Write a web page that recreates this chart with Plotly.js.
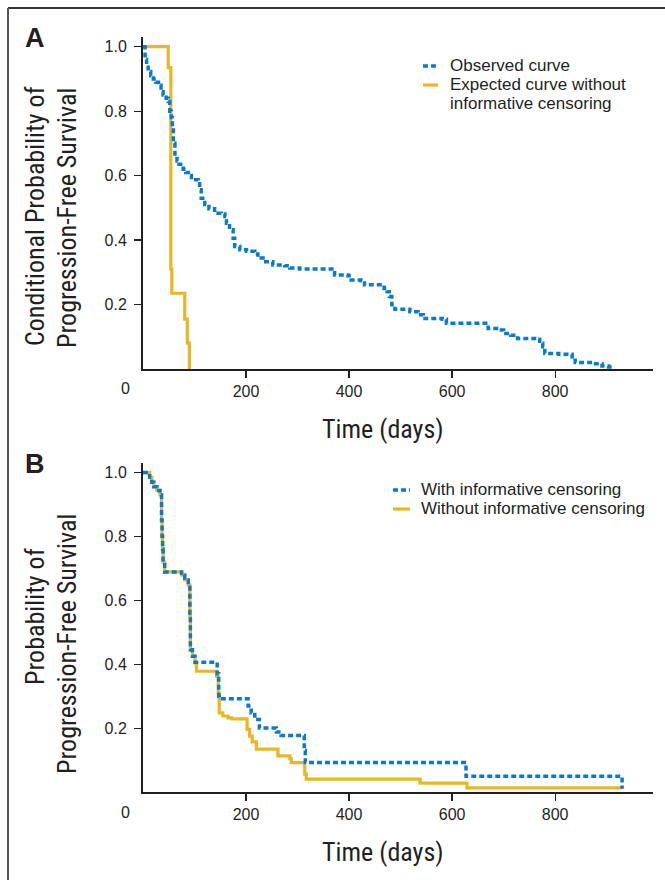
<!DOCTYPE html>
<html>
<head>
<meta charset="utf-8">
<script src="https://cdn.plot.ly/plotly-3.0.1.min.js"></script>
<style>
html,body{margin:0;padding:0;background:#fff;}
#chart{width:665px;height:880px;}
</style>
</head>
<body>
<div id="chart"></div>
<script>
// ---------- Data ----------
// Panel A: observed curve (step function: time in days, conditional PFS)
const obsA_t = [0,4,7,10,15,20,25,30,35,39,45,49,52,55,57,59,62,66,70,78,83,88,94,107,110,113,120,128,139,152,159,162,168,175,178,188,201,217,223,233,252,275,285,304,372,398,404,423,430,468,474,478,483,489,518,534,544,581,589,670,691,700,714,727,765,770,776,780,807,833,839,872,891,904,912];
const obsA_s = [1.0,0.96,0.944,0.923,0.91,0.90,0.89,0.88,0.86,0.85,0.84,0.83,0.80,0.78,0.75,0.70,0.66,0.645,0.635,0.62,0.61,0.60,0.587,0.583,0.556,0.53,0.51,0.497,0.483,0.481,0.473,0.452,0.432,0.406,0.38,0.37,0.365,0.357,0.344,0.333,0.323,0.32,0.313,0.31,0.292,0.289,0.276,0.274,0.261,0.25,0.24,0.225,0.199,0.185,0.178,0.168,0.157,0.154,0.142,0.126,0.121,0.110,0.105,0.095,0.092,0.08,0.069,0.048,0.046,0.038,0.02,0.016,0.009,0.006,0.006];
// Panel A: expected curve without informative censoring
const expA_t = [0,49,54,56,81,86,90];
const expA_s = [1.0,0.935,0.31,0.235,0.155,0.08,0.0];

// Panel B: with informative censoring
const withB_t = [0,13,17,21,27,33,36,37,38,39,42,68,75,81,88,91,92,96,101,144,147,148,204,210,217,226,259,268,313,315,627,930];
const withB_s = [1.0,0.985,0.97,0.956,0.944,0.93,0.85,0.80,0.76,0.72,0.689,0.689,0.679,0.664,0.648,0.55,0.445,0.425,0.406,0.37,0.30,0.292,0.269,0.248,0.227,0.2,0.188,0.177,0.13,0.092,0.049,0.01];
// Panel B: without informative censoring
const withoutB_t = [0,13,17,21,27,33,36,37,38,39,42,68,75,81,88,91,92,96,101,104,143,146,148,155,165,172,202,207,212,220,262,285,288,314,317,538,629,930];
const withoutB_s = [1.0,0.985,0.97,0.956,0.944,0.93,0.85,0.80,0.76,0.72,0.689,0.689,0.679,0.664,0.648,0.55,0.445,0.425,0.403,0.378,0.362,0.31,0.248,0.238,0.232,0.229,0.196,0.175,0.157,0.134,0.113,0.104,0.092,0.056,0.04,0.028,0.013,0.013];

const xTickVals = [200,400,600,800];
const xTickText = ['200','400','600','800'];
const yTickVals = [0.2,0.4,0.6,0.8,1.0];
const yTickText = ['0.2','0.4','0.6','0.8','1.0'];

const namesA = ['Observed curve', 'Expected curve without informative censoring'];
const legendLinesA = [['Observed curve'], ['Expected curve without', 'informative censoring']];
const namesB = ['With informative censoring', 'Without informative censoring'];
const legendLinesB = [['With informative censoring'], ['Without informative censoring']];

// ---------- Styling ----------
const W = 665, H = 880;
const px = x => x / W;
const py = y => 1 - y / H;
const BLUE = '#0b7bc6';
const GOLD = '#e9b722';
const INK = '#231f20';
const BLUE_LINE = {color: BLUE, width: 3.5, dash: '5px,3px'};
const GOLD_LINE = {color: GOLD, width: 3.2};
const TICKFONT = {family: 'Liberation Sans, Arial, sans-serif', size: 16, color: INK};
const TITLEFONT = {family: 'Liberation Sans Narrow, Roboto Condensed, Roboto, sans-serif', size: 26, color: INK};
const LEGFONT = {family: 'Liberation Sans, Arial, sans-serif', size: 17, color: INK};

const traces = [
  {x: expA_t, y: expA_s, xaxis: 'x', yaxis: 'y', mode: 'lines', line: Object.assign({shape: 'hv'}, GOLD_LINE), name: namesA[1], showlegend: false},
  {x: obsA_t, y: obsA_s, xaxis: 'x', yaxis: 'y', mode: 'lines', line: Object.assign({shape: 'hv'}, BLUE_LINE), name: namesA[0], showlegend: false},
  {x: withoutB_t, y: withoutB_s, xaxis: 'x2', yaxis: 'y2', mode: 'lines', line: Object.assign({shape: 'hv'}, GOLD_LINE), name: namesB[1], showlegend: false},
  {x: withB_t, y: withB_s, xaxis: 'x2', yaxis: 'y2', mode: 'lines', line: Object.assign({shape: 'hv'}, BLUE_LINE), name: namesB[0], showlegend: false}
];

function xAxis(anchor) {
  return {
    domain: [px(143), px(653)], range: [0, 990], anchor: anchor,
    showline: true, linecolor: INK, linewidth: 2,
    ticks: 'outside', ticklen: 7, tickwidth: 1.2, tickcolor: INK,
    tickvals: xTickVals, ticktext: xTickText, tickfont: TICKFONT,
    showgrid: false, zeroline: false, fixedrange: true
  };
}
function yAxis(top, bottom, anchor) {
  return {
    domain: [py(bottom), py(top)], range: [0, 1.03], anchor: anchor,
    showline: true, linecolor: INK, linewidth: 2,
    ticks: 'outside', ticklen: 7, tickwidth: 1.2, tickcolor: INK,
    tickvals: yTickVals, ticktext: yTickText, tickfont: TICKFONT,
    ticklabelstandoff: 4,
    showgrid: false, zeroline: false, fixedrange: true
  };
}

const ann = (text, x, y, font, extra) => Object.assign({
  text: text, xref: 'paper', yref: 'paper', x: px(x), y: py(y),
  xanchor: 'center', yanchor: 'middle', showarrow: false, font: font
}, extra || {});

// custom legend: short line sample + left-aligned text lines
const shapes = [
  {type: 'line', xref: 'paper', yref: 'paper', x0: px(8), x1: px(665), y0: py(8), y1: py(8), line: {color: '#333', width: 2}},
  {type: 'line', xref: 'paper', yref: 'paper', x0: px(8), x1: px(8), y0: py(8), y1: py(880), line: {color: '#555', width: 2}}
];
const annotations = [];
function legendBlock(x0, x1, xText, yStart, lines, styles) {
  let y = yStart;
  lines.forEach((entry, i) => {
    shapes.push({type: 'line', xref: 'paper', yref: 'paper', x0: px(x0), x1: px(x1), y0: py(y), y1: py(y), line: styles[i]});
    entry.forEach(t => {
      annotations.push(ann(t, xText, y, LEGFONT, {xanchor: 'left'}));
      y += 19;
    });
  });
}
legendBlock(423, 438, 448, 66, legendLinesA, [BLUE_LINE, GOLD_LINE]);
legendBlock(393, 410, 419, 490, legendLinesB, [BLUE_LINE, GOLD_LINE]);

annotations.push(
  ann('<b>A</b>', 35, 38, {family: 'Liberation Sans, Arial, sans-serif', size: 27, color: INK}),
  ann('<b>B</b>', 35, 464, {family: 'Liberation Sans, Arial, sans-serif', size: 27, color: INK}),
  ann('Conditional Probability of', 35, 216, TITLEFONT, {textangle: -90}),
  ann('Progression-Free Survival', 67, 218, TITLEFONT, {textangle: -90}),
  ann('Probability of', 35, 617, TITLEFONT, {textangle: -90}),
  ann('Progression-Free Survival', 67, 644, TITLEFONT, {textangle: -90}),
  ann('Time (days)', 383, 429, TITLEFONT),
  ann('Time (days)', 383, 852, TITLEFONT),
  ann('0', 125, 388, TICKFONT),
  ann('0', 125, 812, TICKFONT)
);

const layout = {
  width: W, height: H,
  margin: {l: 0, r: 0, t: 0, b: 0},
  paper_bgcolor: '#fff', plot_bgcolor: '#fff',
  showlegend: false,
  xaxis: xAxis('y'),
  yaxis: yAxis(37, 369, 'x'),
  xaxis2: xAxis('y2'),
  yaxis2: yAxis(463, 792, 'x2'),
  shapes: shapes,
  annotations: annotations
};

Plotly.newPlot('chart', traces, layout, {staticPlot: true, displayModeBar: false});
</script>
</body>
</html>
